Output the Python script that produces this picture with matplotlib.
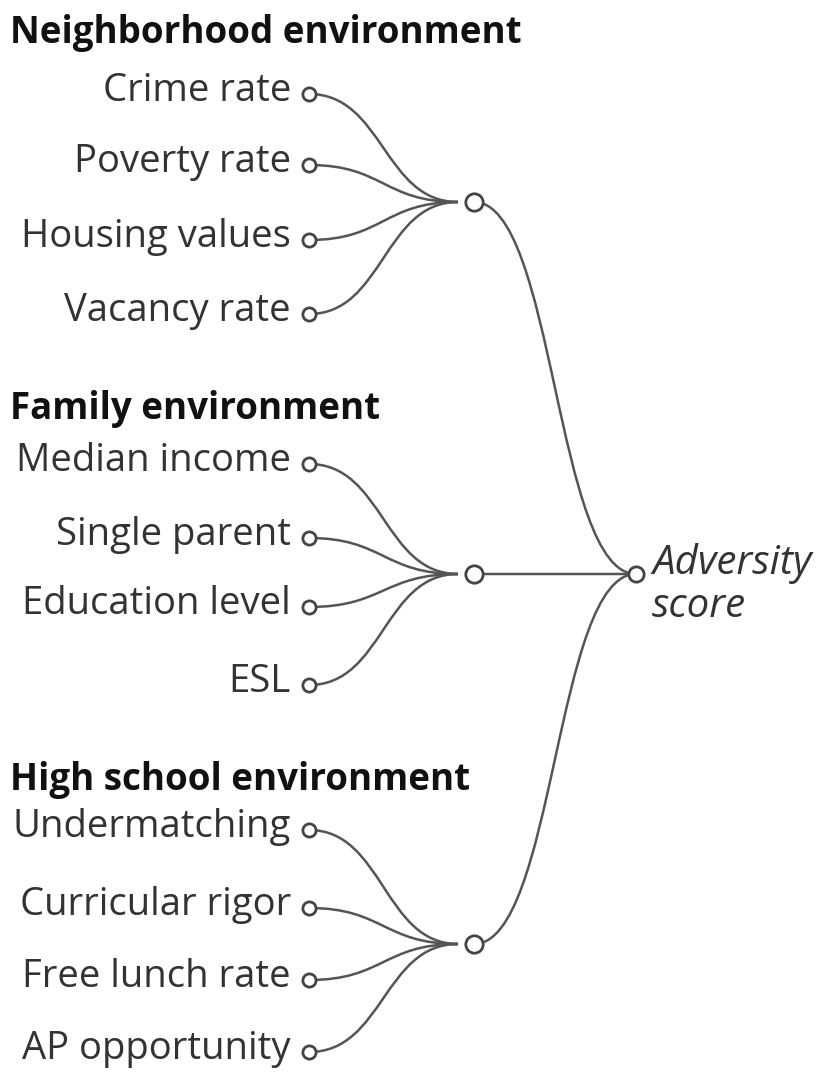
import matplotlib
matplotlib.use("Agg")
import matplotlib.pyplot as plt
from matplotlib.path import Path
from matplotlib.patches import PathPatch

groups = ["Neighborhood environment", "Family environment", "High school environment"]
factors = [
    ["Crime rate", "Poverty rate", "Housing values", "Vacancy rate"],
    ["Median income", "Single parent", "Education level", "ESL"],
    ["Undermatching", "Curricular rigor", "Free lunch rate", "AP opportunity"],
]
result_label = "Adversity\nscore"

# layout in pixel units (y grows downward)
header_y = [33, 409, 780]
row_y = [[94, 165, 240, 314], [464, 538, 607, 685], [830, 908, 980, 1052]]
hub_y = [202, 574, 944]
in_x, hub_x, out_x = 309, 474, 636
line_col = "#555555"

fig = plt.figure(figsize=(8.33, 10.74), dpi=100)
ax = fig.add_axes([0, 0, 1, 1])
ax.set_xlim(0, 833)
ax.set_ylim(1074, 0)
ax.axis("off")

def curve(x0, y0, x1, y1, lw=1.8):
    mx = (x0 + x1) / 2
    p = Path([(x0, y0), (mx, y0), (mx, y1), (x1, y1)],
             [Path.MOVETO, Path.CURVE4, Path.CURVE4, Path.CURVE4])
    ax.add_patch(PathPatch(p, fill=False, edgecolor=line_col, lw=lw, zorder=1))

def node(x, y, ms=9.5):
    ax.plot([x], [y], "o", ms=ms, mfc="white", mec="#444444", mew=2.0, zorder=3)

for g, name in enumerate(groups):
    ax.text(10, header_y[g], name, fontsize=26.5, fontweight="bold", family="Open Sans",
            ha="left", va="center", color="#111111")
    for i, lab in enumerate(factors[g]):
        y = row_y[g][i]
        ax.text(291, y - 3, lab, fontsize=27.5, family="Open Sans", ha="right", va="center",
                color="#333333")
        curve(in_x, y, hub_x - 16, hub_y[g])
        node(in_x, y)
    curve(hub_x, hub_y[g], out_x, 574)
    node(hub_x, hub_y[g], ms=12.5)

node(out_x, 574, ms=11)
ax.text(652, 585, result_label, fontsize=29, family="Open Sans", style="italic",
        ha="left", va="center", color="#333333", linespacing=1.05)

fig.savefig("out.png", dpi=100)
